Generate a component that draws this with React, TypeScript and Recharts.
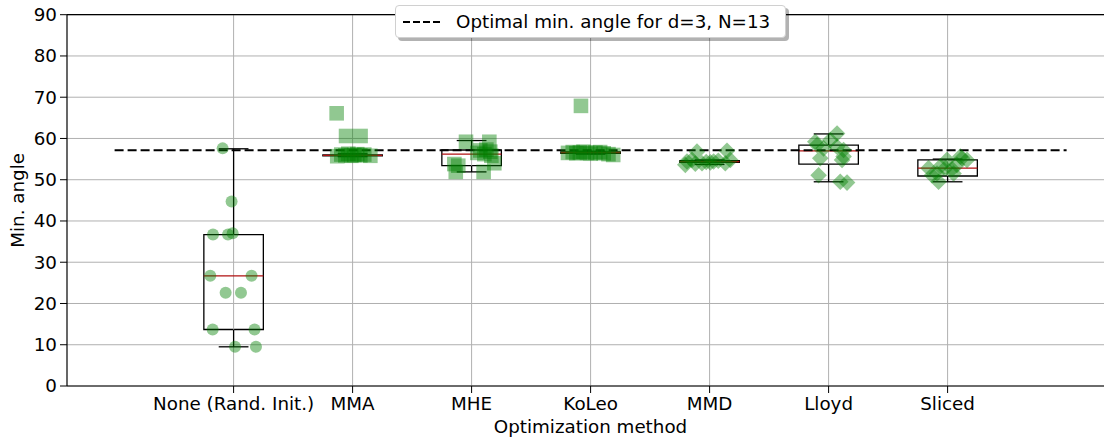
import React from 'react';
import { ScatterChart, Scatter, XAxis, YAxis, CartesianGrid, ReferenceLine, ReferenceArea, Label } from 'recharts';

const metodos = ['None (Rand. Init.)', 'MMA', 'MHE', 'KoLeo', 'MMD', 'Lloyd', 'Sliced'];
const yTicks = [0, 10, 20, 30, 40, 50, 60, 70, 80, 90];
const anguloOtimo = 57.14;

// jitter horizontal (fração da categoria) e valores
const noneDx = [-0.092, -0.017, -0.173, -0.047, -0.008, -0.196, 0.151, -0.067, 0.062, -0.176, 0.176, 0.012, 0.188];
const noneY = [57.6, 44.7, 36.7, 36.7, 37.0, 26.7, 26.7, 22.6, 22.6, 13.7, 13.7, 9.5, 9.5];

const mmaDx = [-0.134, -0.055, 0.067, -0.129, -0.095, -0.061, -0.036, -0.011, 0.014, 0.039, 0.065, 0.098, 0.149];
const mmaY = [66.1, 60.6, 60.6, 55.7, 56.1, 55.9, 56.3, 55.8, 56.0, 56.2, 55.9, 56.1, 55.8];

const mheDx = [-0.047, 0.149, -0.145, -0.133, 0.101, 0.124, 0.157, 0.107, 0.166, 0.073, 0.191, 0.048, -0.112];
const mheY = [59.2, 59.2, 53.8, 51.9, 51.9, 57.3, 56.8, 56.2, 55.8, 57.1, 54.0, 56.5, 53.4];

const koleoDx = [-0.081, -0.19, -0.15, -0.12, -0.09, -0.06, -0.03, 0.0, 0.04, 0.08, 0.11, 0.15, 0.19];
const koleoY = [67.9, 56.5, 56.7, 56.4, 56.6, 56.8, 56.5, 56.3, 56.6, 56.7, 56.4, 56.2, 56.0];

const mmdDx = [-0.204, -0.19, -0.148, -0.106, -0.064, -0.028, 0.034, 0.073, 0.132, 0.146, 0.174, -0.12, 0.006];
const mmdY = [53.6, 54.4, 54.8, 56.8, 54.0, 54.3, 54.4, 54.6, 54.0, 57.0, 54.8, 53.9, 54.2];

const lloydDx = [0.071, -0.112, 0.014, 0.126, -0.07, 0.113, -0.084, 0.098, 0.155, -0.042, 0.071, 0.126, -0.097];
const lloydY = [61.2, 59.2, 59.6, 57.2, 55.2, 54.8, 51.1, 49.5, 49.3, 57.6, 58.0, 55.6, 58.4];

const slicedDx = [-0.16, -0.076, -0.089, -0.005, 0.05, 0.079, 0.121, 0.163, -0.019, -0.131, 0.107, -0.061, 0.037];
const slicedY = [52.8, 49.5, 51.5, 54.8, 51.5, 53.6, 55.2, 54.8, 52.8, 51.1, 55.6, 53.2, 52.6];

// estatísticas das caixas
const whiskerMin = [9.5, 55.6, 51.9, 56.2, 53.7, 49.5, 49.5];
const q1 = [13.7, 55.8, 53.4, 56.4, 54.2, 53.8, 50.9];
const mediana = [26.7, 55.9, 56.2, 56.6, 54.4, 57.0, 52.8];
const q3 = [36.7, 56.0, 57.2, 56.75, 54.6, 58.4, 54.8];
const whiskerMax = [57.5, 56.3, 59.5, 56.9, 54.8, 61.1, 55.0];

const VERDE = '#008000';
const ALFA = 0.43;
const FONTE = '"DejaVu Sans", sans-serif';
const TAM = 18.3;

const pontos = (i: number, dx: number[], ys: number[]) => ys.map((y, k) => ({ x: i + dx[k], y }));

const circulo = (p: any) => <circle cx={p.cx} cy={p.cy} r={6} fill={VERDE} fillOpacity={ALFA} />;
const quadrado = (p: any) => <rect x={p.cx - 7.3} y={p.cy - 7.3} width={14.6} height={14.6} fill={VERDE} fillOpacity={ALFA} />;
const losango = (p: any) => {
  const r = 8.3;
  return (
    <polygon
      points={`${p.cx},${p.cy - r} ${p.cx + r},${p.cy} ${p.cx},${p.cy + r} ${p.cx - r},${p.cy}`}
      fill={VERDE}
      fillOpacity={ALFA}
    />
  );
};

const series = [
  { dados: pontos(0, noneDx, noneY), shape: circulo },
  { dados: pontos(1, mmaDx, mmaY), shape: quadrado },
  { dados: pontos(2, mheDx, mheY), shape: quadrado },
  { dados: pontos(3, koleoDx, koleoY), shape: quadrado },
  { dados: pontos(4, mmdDx, mmdY), shape: losango },
  { dados: pontos(5, lloydDx, lloydY), shape: losango },
  { dados: pontos(6, slicedDx, slicedY), shape: losango },
];

// segmentos das caixas (bigodes, tampas); ignora segmentos de comprimento zero
const caixa = 0.25;
const cap = 0.125;
const segPreto = metodos.flatMap((_, i) => [
  [{ x: i, y: whiskerMin[i] }, { x: i, y: q1[i] }],
  [{ x: i, y: q3[i] }, { x: i, y: whiskerMax[i] }],
  [{ x: i - cap, y: whiskerMin[i] }, { x: i + cap, y: whiskerMin[i] }],
  [{ x: i - cap, y: whiskerMax[i] }, { x: i + cap, y: whiskerMax[i] }],
]).filter((s) => s[0].x !== s[1].x || s[0].y !== s[1].y);

export default function App() {
  return (
    <div style={{ position: 'absolute', left: 0, top: 0, width: 1109, height: 441, background: '#fff', fontFamily: FONTE }}>
      {/* a área do gráfico continua além da borda direita, como na figura original */}
      <div style={{ position: 'absolute', left: 0, top: 0, width: 1104, height: 441, overflow: 'hidden' }}>
        <ScatterChart width={1138} height={441} margin={{ top: 14.7, right: 0, bottom: 0, left: 0 }}>
          <CartesianGrid stroke="#b0b0b0" strokeWidth={1} vertical={false} />
          {metodos.map((m, i) => (
            <ReferenceLine key={'gx' + m} x={i} stroke="#b0b0b0" strokeWidth={1} />
          ))}
          <XAxis
            type="number"
            dataKey="x"
            domain={[-1.4, 7.6]}
            ticks={[0, 1, 2, 3, 4, 5, 6]}
            interval={0}
            allowDataOverflow
            height={55}
            tickSize={7}
            tickMargin={4}
            tickFormatter={(v: number) => metodos[v] ?? ''}
            tick={{ fill: '#000', fontSize: TAM, fontFamily: FONTE }}
            tickLine={{ stroke: '#000' }}
            axisLine={{ stroke: '#000', strokeWidth: 1.2 }}
          >
            <Label
              content={() => (
                <text x={590.5} y={433} textAnchor="middle" fontSize={TAM} fontFamily={FONTE} fill="#000">
                  Optimization method
                </text>
              )}
            />
          </XAxis>
          <YAxis
            type="number"
            dataKey="y"
            domain={[0, 90]}
            ticks={yTicks}
            interval={0}
            width={67}
            tickSize={7}
            tickMargin={3}
            tick={{ fill: '#000', fontSize: TAM, fontFamily: FONTE }}
            tickLine={{ stroke: '#000' }}
            axisLine={{ stroke: '#000', strokeWidth: 1.2 }}
          >
            <Label
              content={(props: any) => {
                const vb = props.viewBox;
                const cy = vb.y + vb.height / 2;
                return (
                  <text x={18} y={cy} dy="0.35em" textAnchor="middle" fontSize={TAM} fontFamily={FONTE} fill="#000" transform={`rotate(-90, 18, ${cy})`}>
                    Min. angle
                  </text>
                );
              }}
            />
          </YAxis>

          {series.map((s, i) => (
            <Scatter key={metodos[i]} name={metodos[i]} data={s.dados} shape={s.shape} isAnimationActive={false} />
          ))}

          {metodos.map((m, i) => (
            <ReferenceArea
              key={'box' + m}
              x1={i - caixa}
              x2={i + caixa}
              y1={q1[i]}
              y2={q3[i]}
              fill="none"
              fillOpacity={0}
              stroke="#000"
              strokeWidth={1.3}
            />
          ))}
          {segPreto.map((s, k) => (
            <ReferenceLine key={'seg' + k} segment={s} stroke="#000" strokeWidth={1.3} />
          ))}
          {metodos.map((m, i) => (
            <ReferenceLine key={'md' + m} segment={[{ x: i - caixa, y: mediana[i] }, { x: i + caixa, y: mediana[i] }]} stroke="#b01010" strokeWidth={1.3} />
          ))}

          <ReferenceLine segment={[{ x: -1, y: anguloOtimo }, { x: 7, y: anguloOtimo }]} stroke="#000" strokeWidth={2} strokeDasharray="9 4" />
          <ReferenceLine y={90} stroke="#000" strokeWidth={1.2} />
        </ScatterChart>
      </div>

      <div
        style={{
          position: 'absolute',
          left: 395,
          top: 5,
          width: 391,
          height: 33,
          boxSizing: 'border-box',
          background: '#fff',
          border: '1px solid #d0d0d0',
          borderRadius: 4,
          boxShadow: '3px 3px 0 rgba(0,0,0,0.3)',
          display: 'flex',
          alignItems: 'center',
        }}
      >
        <svg width={38} height={10} style={{ marginLeft: 7, flex: 'none' }}>
          <line x1={0} y1={5} x2={37} y2={5} stroke="#000" strokeWidth={2} strokeDasharray="7 3" />
        </svg>
        <span style={{ marginLeft: 15, fontSize: TAM, color: '#000', whiteSpace: 'nowrap', fontFamily: FONTE }}>
          Optimal min. angle for d=3, N=13
        </span>
      </div>
    </div>
  );
}
